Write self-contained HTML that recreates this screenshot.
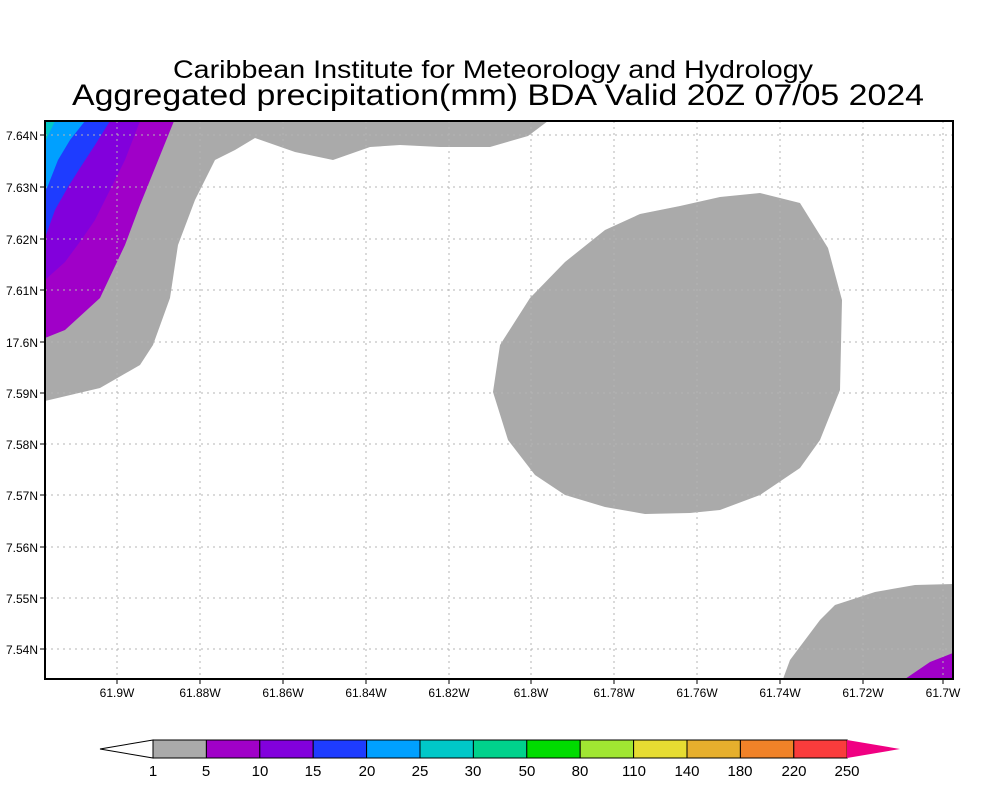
<!DOCTYPE html>
<html><head><style>body{margin:0;background:#fff}svg{display:block}text{font-family:"Liberation Sans",sans-serif}</style></head>
<body>
<svg width="1000" height="800" xmlns="http://www.w3.org/2000/svg">
<rect width="1000" height="800" fill="#fff"/>
<text x="493" y="78" font-size="25" text-anchor="middle" textLength="640" lengthAdjust="spacingAndGlyphs">Caribbean Institute for Meteorology and Hydrology</text>
<text x="498" y="105" font-size="30" text-anchor="middle" textLength="852" lengthAdjust="spacingAndGlyphs">Aggregated precipitation(mm) BDA Valid 20Z 07/05 2024</text>
<clipPath id="c"><rect x="45" y="121" width="908" height="558"/></clipPath>
<g clip-path="url(#c)">
<polygon fill="#aaaaaa" points="45,121 548,121 528,136 490,147 440,147 400,145 370,147 333,160 295,152 255,138 235,150 215,160 195,200 178,245 170,298 153,345 140,365 100,388 45,401"/>
<polygon fill="#a000c8" points="45,121 174,121 155,168 140,205 125,245 100,298 65,330 45,338"/>
<polygon fill="#8200dc" points="45,121 140,121 125,160 110,190 95,220 82,239 65,262 45,280"/>
<polygon fill="#1e3cff" points="45,121 110,121 95,145 80,168 68,187 55,210 45,238"/>
<polygon fill="#00a0ff" points="45,121 85,121 70,140 58,160 47,188 45,190"/>
<polygon fill="#00c8c8" points="45,121 55,121 45,142"/>
<polygon fill="#aaaaaa" points="493,392 500,345 530,298 565,262 605,230 640,214 680,206 720,197 760,193 800,203 828,248 842,300 840,390 820,440 800,468 760,495 720,510 690,513 645,514 605,507 565,495 535,475 508,440"/>
<polygon fill="#aaaaaa" points="783,679 790,660 820,620 835,605 875,592 915,585 953,584 953,679"/>
<polygon fill="#a000c8" points="905,679 930,662 953,653 953,679"/>
</g>
<g stroke="#b4b4b4" stroke-width="1" stroke-dasharray="2,4" fill="none">
<path d="M117,121V679M200,121V679M283,121V679M366,121V679M449,121V679M531,121V679M614,121V679M697,121V679M780,121V679M863,121V679M943,121V679"/>
<path d="M45,135H953M45,187H953M45,239H953M45,290H953M45,342H953M45,393H953M45,444H953M45,495H953M45,547H953M45,598H953M45,649H953"/>
</g>
<rect x="45" y="121" width="908" height="558" fill="none" stroke="#000" stroke-width="2"/>
<g stroke="#000" stroke-width="1">
<path d="M117,679v5M200,679v5M283,679v5M366,679v5M449,679v5M531,679v5M614,679v5M697,679v5M780,679v5M863,679v5M943,679v5"/>
<path d="M40,135h5M40,187h5M40,239h5M40,290h5M40,342h5M40,393h5M40,444h5M40,495h5M40,547h5M40,598h5M40,649h5"/>
</g>
<g font-size="12" text-anchor="middle">
<text x="117" y="697">61.9W</text><text x="200" y="697">61.88W</text><text x="283" y="697">61.86W</text><text x="366" y="697">61.84W</text><text x="449" y="697">61.82W</text><text x="531" y="697">61.8W</text><text x="614" y="697">61.78W</text><text x="697" y="697">61.76W</text><text x="780" y="697">61.74W</text><text x="863" y="697">61.72W</text><text x="943" y="697">61.7W</text>
</g>
<g font-size="12" text-anchor="end">
<text x="38" y="140">7.64N</text><text x="38" y="192">7.63N</text><text x="38" y="244">7.62N</text><text x="38" y="295">7.61N</text><text x="38" y="347">17.6N</text><text x="38" y="398">7.59N</text><text x="38" y="449">7.58N</text><text x="38" y="500">7.57N</text><text x="38" y="552">7.56N</text><text x="38" y="603">7.55N</text><text x="38" y="654">7.54N</text>
</g>
<g stroke="#000" stroke-width="1">
<polygon points="153,740 100,749 153,758" fill="#fff"/>
<rect x="153" y="740" width="53.4" height="18" fill="#aaaaaa"/>
<rect x="206.4" y="740" width="53.4" height="18" fill="#a000c8"/>
<rect x="259.8" y="740" width="53.4" height="18" fill="#8200dc"/>
<rect x="313.2" y="740" width="53.4" height="18" fill="#1e3cff"/>
<rect x="366.6" y="740" width="53.4" height="18" fill="#00a0ff"/>
<rect x="420" y="740" width="53.4" height="18" fill="#00c8c8"/>
<rect x="473.4" y="740" width="53.4" height="18" fill="#00d28c"/>
<rect x="526.8" y="740" width="53.4" height="18" fill="#00dc00"/>
<rect x="580.2" y="740" width="53.4" height="18" fill="#a0e632"/>
<rect x="633.6" y="740" width="53.4" height="18" fill="#e6dc32"/>
<rect x="687" y="740" width="53.4" height="18" fill="#e6af2d"/>
<rect x="740.4" y="740" width="53.4" height="18" fill="#f08228"/>
<rect x="793.8" y="740" width="53.4" height="18" fill="#fa3c3c"/>
<polygon points="847,740 900,749 847,758" fill="#f00082" stroke="none"/>
</g>
<g font-size="15" text-anchor="middle">
<text x="153" y="776">1</text><text x="206" y="776">5</text><text x="260" y="776">10</text><text x="313" y="776">15</text><text x="367" y="776">20</text><text x="420" y="776">25</text><text x="473" y="776">30</text><text x="527" y="776">50</text><text x="580" y="776">80</text><text x="634" y="776">110</text><text x="687" y="776">140</text><text x="740" y="776">180</text><text x="794" y="776">220</text><text x="847" y="776">250</text>
</g>
</svg>
</body></html>
